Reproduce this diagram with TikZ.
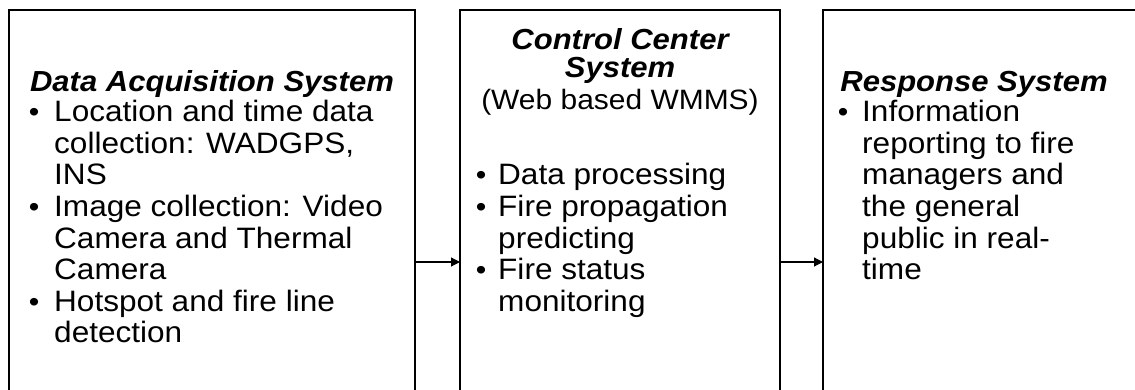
\documentclass[tikz,border=0pt]{standalone}
\usepackage{fontspec}
\setmainfont{Liberation Sans}[FakeStretch=1.07]
\usetikzlibrary{arrows.meta}
\begin{document}
\begin{tikzpicture}[x=1pt,y=-1pt,
  boxline/.style={line width=1.6pt},
  txt/.style={anchor=base west,inner sep=0pt,font=\fontsize{29.5}{31.5}\selectfont},
  ctr/.style={anchor=base,inner sep=0pt,font=\fontsize{28}{31.5}\selectfont},
  ttl/.style={anchor=base,inner sep=0pt,font=\fontsize{29}{31.5}\selectfont\bfseries\itshape},
  bul/.style={anchor=base,inner sep=0pt,font=\fontsize{28}{31.5}\selectfont},
  link/.style={line width=1.2pt,-{Triangle[length=9pt,width=9pt]}}]
\useasboundingbox (0,0) rectangle (1135,390);
% boxes (open at the bottom)
\draw[boxline] (9,392) -- (9,10) -- (415,10) -- (415,392);
\draw[boxline] (460,392) -- (460,10) -- (780,10) -- (780,392);
\draw[boxline] (823,392) -- (823,10) -- (1137,10);
\coordinate (b1r) at (415,262);
\coordinate (b2l) at (460,262);
\coordinate (b2r) at (780,262);
\coordinate (b3l) at (823,262);
\draw[link] (b1r) -- (b2l);
\draw[link] (b2r) -- (b3l);
% box 1
\node[ttl] (t1) at (212,92) {Data Acquisition System};
\node[bul] (u11) at (34,122) {\textbullet};
\node[txt] (a1) at (54,122) {Location and time data};
\node[txt] (a2) at (54,153.5) {collection: WADGPS,};
\node[txt] (a3) at (54,185) {INS};
\node[bul] (u12) at (34,216.5) {\textbullet};
\node[txt] (a4) at (54,216.5) {Image collection: Video};
\node[txt] (a5) at (54,248) {Camera and Thermal};
\node[txt] (a6) at (54,279.5) {Camera};
\node[bul] (u13) at (34,311) {\textbullet};
\node[txt] (a7) at (54,311) {Hotspot and fire line};
\node[txt] (a8) at (54,342.5) {detection};
% box 2
\node[ttl] (t2a) at (620,50) {Control Center};
\node[ttl] (t2b) at (620,78) {System};
\node[ctr] (t2c) at (620,110) {(Web based WMMS)};
\node[bul] (u21) at (481,185) {\textbullet};
\node[txt] (c1) at (498,185) {Data processing};
\node[bul] (u22) at (481,216.5) {\textbullet};
\node[txt] (c2) at (498,216.5) {Fire propagation};
\node[txt] (c3) at (498,248) {predicting};
\node[bul] (u23) at (481,279.5) {\textbullet};
\node[txt] (c4) at (498,279.5) {Fire status};
\node[txt] (c5) at (498,311) {monitoring};
% box 3
\node[ttl] (t3) at (974,92) {Response System};
\node[bul] (u31) at (843,122) {\textbullet};
\node[txt] (r1) at (862,122) {Information};
\node[txt] (r2) at (862,153.5) {reporting to fire};
\node[txt] (r3) at (862,185) {managers and};
\node[txt] (r4) at (862,216.5) {the general};
\node[txt] (r5) at (862,248) {public in real-};
\node[txt] (r6) at (862,279.5) {time};
\end{tikzpicture}
\end{document}
